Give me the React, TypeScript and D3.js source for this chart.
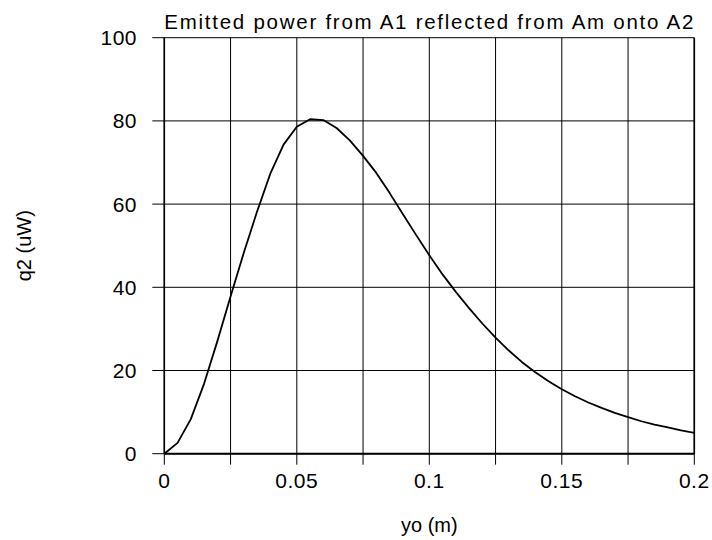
import React from "react";
import * as d3 from "d3";

const xValues = [
  0, 0.005, 0.01, 0.015, 0.02, 0.025, 0.03, 0.035, 0.04, 0.045, 0.05,
  0.055, 0.06, 0.065, 0.07, 0.075, 0.08, 0.085, 0.09, 0.095, 0.1,
  0.105, 0.11, 0.115, 0.12, 0.125, 0.13, 0.135, 0.14, 0.145, 0.15,
  0.155, 0.16, 0.165, 0.17, 0.175, 0.18, 0.185, 0.19, 0.195, 0.2,
];
const q2Values = [
  0, 2.6, 8.3, 16.8, 27, 37.8, 48.3, 58.2, 67.3, 74.3, 78.6,
  80.4, 80.2, 78.3, 75.3, 71.6, 67.5, 62.7, 57.6, 52.6, 47.7,
  43.1, 38.9, 35, 31.3, 27.9, 24.8, 22, 19.6, 17.4, 15.5,
  13.8, 12.3, 11, 9.8, 8.8, 7.8, 7, 6.3, 5.6, 5.0,
];
const xTicks = [0, 0.05, 0.1, 0.15, 0.2];
const xGrid = [0, 0.025, 0.05, 0.075, 0.1, 0.125, 0.15, 0.175, 0.2];
const yTicks = [0, 20, 40, 60, 80, 100];

const title = "Emitted power from A1 reflected from Am onto A2";
const xLabel = "yo (m)";
const yLabel = "q2 (uW)";

const W = 712;
const H = 540;
const left = 164.3;
const right = 694.3;
const top = 37.7;
const bottom = 453.7;

export default function App() {
  const x = d3.scaleLinear().domain([0, 0.2]).range([left, right]);
  const y = d3.scaleLinear().domain([0, 100]).range([bottom, top]);
  const data = xValues.map((v, i) => [v, q2Values[i]] as [number, number]);
  const line = d3
    .line<[number, number]>()
    .x((d) => x(d[0]))
    .y((d) => y(d[1]));
  const font = "'Liberation Sans', Arial, sans-serif";
  return (
    <svg
      width={W}
      height={H}
      style={{ position: "absolute", left: 0, top: 0, background: "#fff" }}
      fontFamily={font}
    >
      <rect x={0} y={0} width={W} height={H} fill="#fff" />
      {xGrid.map((t) => (
        <line
          key={"xg" + t}
          x1={x(t)}
          x2={x(t)}
          y1={top}
          y2={bottom + 11}
          stroke="#000"
          strokeWidth={1}
        />
      ))}
      {yTicks.map((t) => (
        <line
          key={"yg" + t}
          x1={left - 12}
          x2={right}
          y1={y(t)}
          y2={y(t)}
          stroke="#000"
          strokeWidth={1}
        />
      ))}
      <line x1={left} x2={left} y1={top} y2={bottom} stroke="#000" strokeWidth={1.6} />
      <line x1={right} x2={right} y1={top} y2={bottom} stroke="#000" strokeWidth={1.6} />
      <line x1={left} x2={right} y1={bottom} y2={bottom} stroke="#000" strokeWidth={2} />
      <path d={line(data) || ""} fill="none" stroke="#000" strokeWidth={1.8} strokeLinejoin="round" />
      {yTicks.map((t) => (
        <text
          key={"yl" + t}
          x={137}
          y={y(t)}
          dy="0.36em"
          textAnchor="end"
          fontSize={21}
          letterSpacing={0.5}
          fill="#000"
        >
          {t}
        </text>
      ))}
      {xTicks.map((t) => (
        <text
          key={"xl" + t}
          x={x(t)}
          y={488}
          textAnchor="middle"
          fontSize={21}
          letterSpacing={0.5}
          fill="#000"
        >
          {String(t)}
        </text>
      ))}
      <text
        x={left}
        y={29}
        fontSize={20.5}
        textLength={529}
        lengthAdjust="spacing"
        fill="#000"
      >
        {title}
      </text>
      <text x={x(0.1)} y={532} textAnchor="middle" fontSize={20} fill="#000">
        {xLabel}
      </text>
      <text
        transform={`translate(31,${y(50)}) rotate(-90)`}
        textAnchor="middle"
        fontSize={20}
        fill="#000"
      >
        {yLabel}
      </text>
    </svg>
  );
}
